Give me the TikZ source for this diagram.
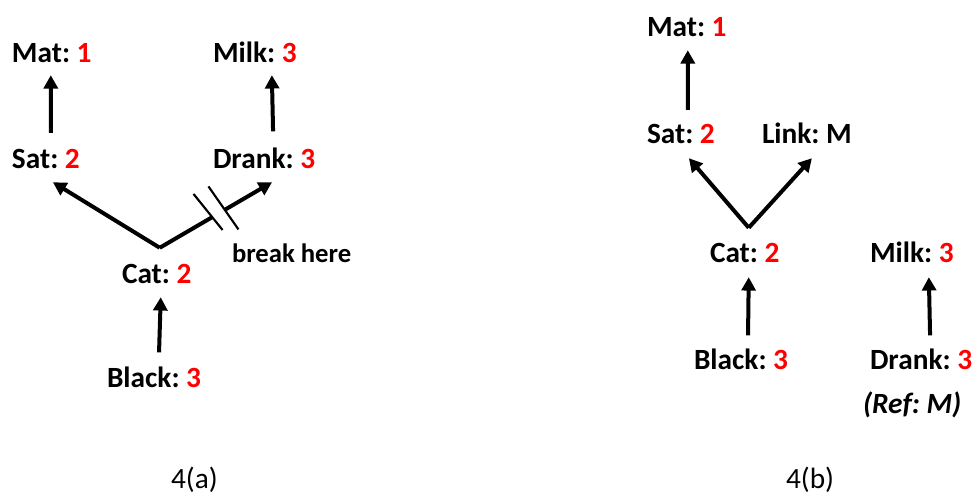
\documentclass[tikz,border=0pt]{standalone}
\usepackage{fontspec}
\setmainfont{Carlito}
\frenchspacing
\usetikzlibrary{arrows.meta,calc}
\definecolor{numred}{RGB}{255,0,0}
\newcommand{\wordnum}[2]{#1: \textcolor{numred}{#2}}
\tikzset{
  word/.style={anchor=base west,inner sep=0pt,outer sep=0pt,font=\fontsize{22}{26}\selectfont\bfseries},
  note/.style={anchor=base west,inner sep=0pt,outer sep=0pt,font=\fontsize{20}{24}\selectfont\bfseries},
  caption/.style={anchor=base west,inner sep=0pt,outer sep=0pt,font=\fontsize{22}{26}\selectfont},
  arr/.style={line width=3pt,-{Triangle[width=10.5pt,length=10pt]}},
  cut/.style={line width=1.6pt}
}

\begin{document}
\begin{tikzpicture}[x=0.75pt,y=-0.75pt]
  \useasboundingbox (0,0) rectangle (976,494);

  % 4(a)
  \node[word] (matA) at (12,62) {\wordnum{Mat}{1}};
  \node[word] (milkA) at (213,62) {\wordnum{Milk}{3}};
  \node[word] (satA) at (12,168) {\wordnum{Sat}{2}};
  \node[word] (drankA) at (213,168) {\wordnum{Drank}{3}};
  \node[word] (catA) at (122,283) {\wordnum{Cat}{2}};
  \node[word] (blackA) at (107,387) {\wordnum{Black}{3}};
  \node[note] (breakA) at (232,262) {break here};
  \node[caption] (capA) at (171,488) {4(a)};

  \coordinate (vA) at ($(catA.north)+(3,-16)$);
  \coordinate (dA) at ($(drankA.south)+(8,14)$);
  \coordinate (cutA1) at ($(vA)!0.47!(dA)$);
  \coordinate (cutA2) at ($(vA)!0.585!(dA)$);

  \draw[arr] ($(satA.north)+(5,-16)$) -- ($(matA.south)+(-1,13)$);
  \draw[arr] ($(drankA.north)+(9,-16)$) -- ($(milkA.south)+(17,13)$);
  \draw[arr] ($(blackA.north)+(5,-14)$) -- ($(catA.south)+(4,14)$);
  \draw[arr] (vA) -- ($(satA.south)+(7,14)$);
  \draw[line width=3pt] (vA) -- (cutA1);
  \draw[arr] (cutA2) -- (dA);
  \draw[cut] ($(cutA1)+(-19,-23)$) -- ($(cutA1)+(10,13)$);
  \draw[cut] ($(cutA2)+(-17,-23)$) -- ($(cutA2)+(13,20)$);

  % 4(b)
  \node[word] (matB) at (647,36) {\wordnum{Mat}{1}};
  \node[word] (satB) at (647,143) {\wordnum{Sat}{2}};
  \node[word] (linkB) at (762,143) {Link: M};
  \node[word] (catB) at (710,262) {\wordnum{Cat}{2}};
  \node[word] (milkB) at (870,262) {\wordnum{Milk}{3}};
  \node[word] (blackB) at (694,369) {\wordnum{Black}{3}};
  \node[word] (drankB) at (870,369) {\wordnum{Drank}{3}};
  \node[word,font=\fontsize{22}{26}\selectfont\bfseries\itshape] (refB) at (863,413) {(Ref: M)};
  \node[caption] (capB) at (786,488) {4(b)};

  \coordinate (vB) at ($(catB.north)+(4,-15)$);

  \draw[arr] ($(satB.north)+(7,-14)$) -- ($(matB.south)+(1,14)$);
  \draw[arr] ($(blackB.north)+(7,-13)$) -- ($(catB.south)+(4,15)$);
  \draw[arr] ($(drankB.north)+(9,-13)$) -- ($(milkB.south)+(17,15)$);
  \draw[arr] (vB) -- ($(satB.south)+(8,15)$);
  \draw[arr] (vB) -- ($(linkB.south)+(5,15)$);
\end{tikzpicture}
\end{document}
